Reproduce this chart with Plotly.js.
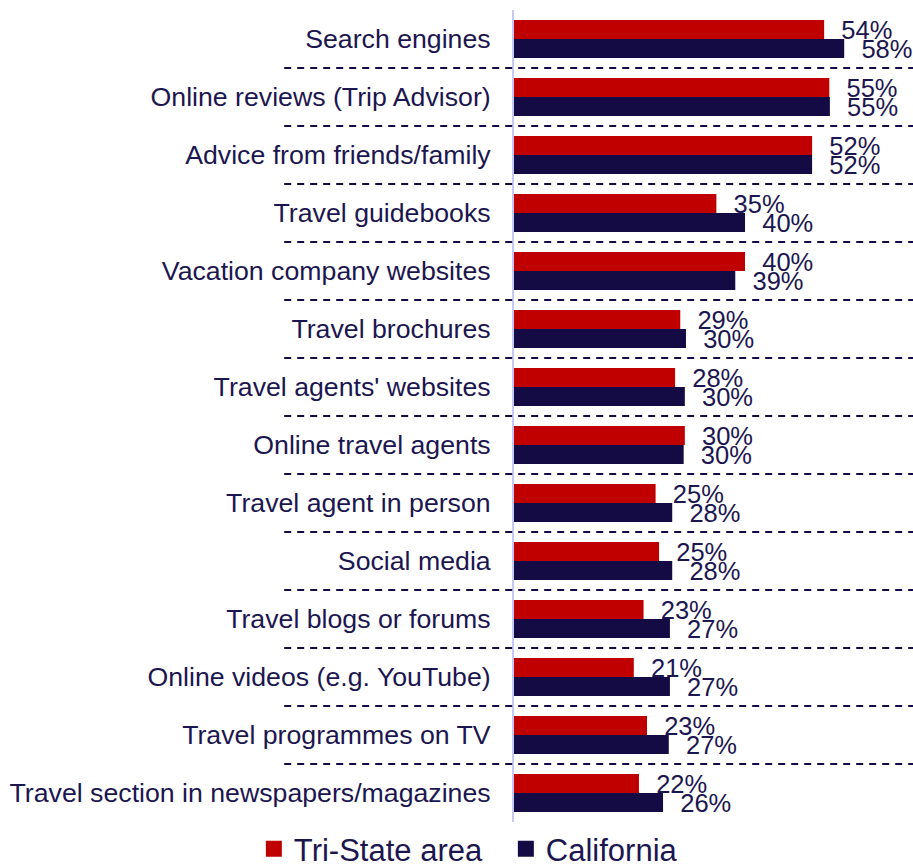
<!DOCTYPE html>
<html>
<head>
<meta charset="utf-8">
<script src="https://cdn.plot.ly/plotly-3.0.1.min.js"></script>
<style>html,body{margin:0;padding:0;background:#fff;}#chart{width:913px;height:865px;}</style>
</head>
<body>
<div id="chart"></div>
<script>
var categories = [
  "Search engines",
  "Online reviews (Trip Advisor)",
  "Advice from friends/family",
  "Travel guidebooks",
  "Vacation company websites",
  "Travel brochures",
  "Travel agents' websites",
  "Online travel agents",
  "Travel agent in person",
  "Social media",
  "Travel blogs or forums",
  "Online videos (e.g. YouTube)",
  "Travel programmes on TV",
  "Travel section in newspapers/magazines"
];
var triState = [54.1, 55.0, 52.0, 35.3, 40.3, 29.0, 28.1, 29.8, 24.7, 25.3, 22.6, 20.9, 23.2, 21.8];
var california = [57.6, 55.1, 52.0, 40.3, 38.6, 30.0, 29.8, 29.6, 27.6, 27.6, 27.2, 27.2, 27.0, 26.0];
var seriesNames = ["Tri-State area", "California"];

var RED = "#c00000", NAVY = "#140b45", TXT = "#1c1650";
var FONT = "Arial, 'Liberation Sans', sans-serif";
var NB = "\u00a0\u00a0";

function barTrace(vals, name, color) {
  return {
    type: "bar", orientation: "h", y: categories, x: vals, name: name,
    marker: {color: color, line: {width: 0}},
    texttemplate: NB + "%{x:.0f}%", textposition: "outside",
    textfont: {family: FONT, size: 25.5, color: TXT},
    constraintext: "none", cliponaxis: false,
    showlegend: false, hoverinfo: "skip"
  };
}
function legendTrace(name, color) {
  return {
    type: "scatter", mode: "markers", x: [null], y: [null], name: name,
    marker: {symbol: "square", size: 16, color: color, line: {width: 0}},
    showlegend: true, hoverinfo: "skip"
  };
}

var data = [
  barTrace(triState, seriesNames[0], RED),
  barTrace(california, seriesNames[1], NAVY),
  legendTrace(seriesNames[0], RED),
  legendTrace(seriesNames[1], NAVY)
];

var shapes = [];
for (var k = 0; k < categories.length - 1; k++) {
  shapes.push({
    type: "line", xref: "paper", yref: "y",
    x0: -0.576, x1: 1, y0: k + 0.5, y1: k + 0.5,
    line: {color: NAVY, width: 2, dash: "7px,6px"}
  });
}

var layout = {
  width: 913, height: 865,
  margin: {l: 514, r: 0, t: 10, b: 43, pad: 0, autoexpand: false},
  paper_bgcolor: "#ffffff", plot_bgcolor: "#ffffff",
  barmode: "group", bargap: 0.345, bargroupgap: 0,
  font: {family: FONT, color: TXT},
  xaxis: {range: [0, 69.6], visible: false, fixedrange: true},
  yaxis: {
    type: "category", range: [13.5, -0.5],
    showline: true, linecolor: "#c8c8f4", linewidth: 2,
    showgrid: false, zeroline: false, ticks: "",
    ticklabelstandoff: 16,
    tickfont: {family: FONT, size: 26.7, color: TXT},
    fixedrange: true
  },
  shapes: shapes,
  showlegend: true,
  legend: {
    orientation: "h", xref: "paper", yref: "paper",
    x: -0.652, xanchor: "left", y: -0.0001, yanchor: "top",
    entrywidth: 207, entrywidthmode: "pixels",
    font: {family: FONT, size: 31, color: TXT},
    bgcolor: "rgba(0,0,0,0)", itemclick: false, itemdoubleclick: false
  }
};

Plotly.newPlot("chart", data, layout, {displayModeBar: false, staticPlot: true});
</script>
</body>
</html>
